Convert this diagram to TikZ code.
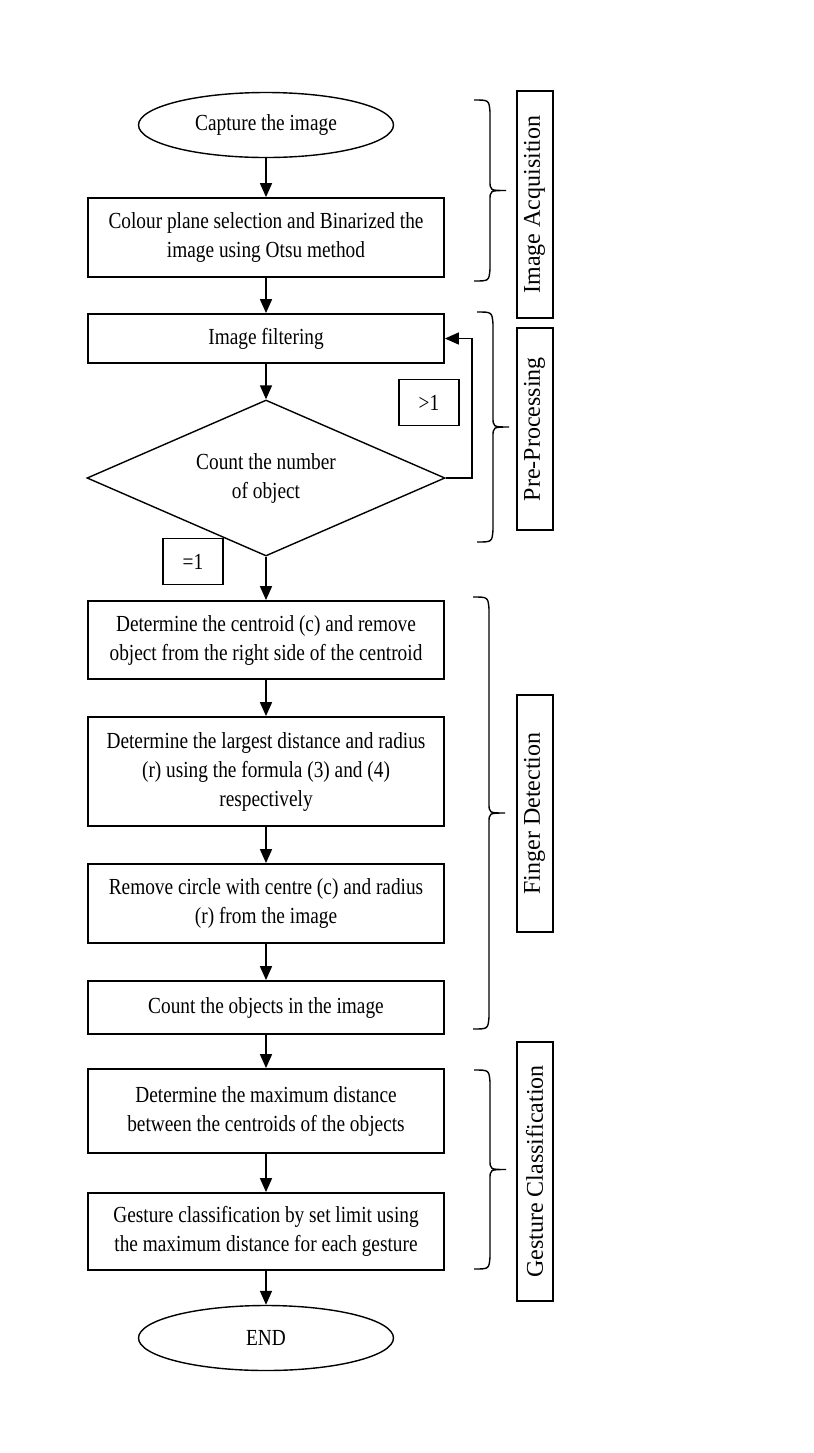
\documentclass[tikz,border=0pt]{standalone}
\usepackage{fontspec}
\setmainfont{Liberation Serif}[FakeStretch=0.84]
\newfontfamily\tagfont{Liberation Serif}
\usetikzlibrary{shapes.geometric, arrows.meta}
\tikzstyle{arrow} = [-{Triangle[length=7pt,width=6pt]},line width=.8pt]
\tikzstyle{stage} = [draw,line width=.9pt,minimum width=178pt,inner sep=0pt,align=center]
\tikzstyle{term} = [draw,ellipse,line width=.7pt,minimum width=127.5pt,minimum height=32.5pt]
\tikzstyle{decide} = [draw,diamond,aspect=2.3,line width=.7pt,minimum width=179pt,minimum height=78pt,inner sep=0pt,align=center]
\tikzstyle{cond} = [draw,line width=.8pt,minimum width=30pt,minimum height=23pt,inner sep=0pt]
\tikzstyle{phase} = [draw,line width=1pt,rotate=90,minimum height=18pt,inner sep=0pt,font=\tagfont\fontsize{12}{14}\selectfont]
\tikzstyle{brc} = [line width=.7pt]
\newcommand{\stagebrace}[3]{\draw[brc]({#1},{#2})..controls({#1+15},{#2})..({#1+16},{#2+12})--({#1+16},{(#2+#3)/2-10})..controls({#1+16},{(#2+#3)/2})..({#1+32},{(#2+#3)/2})
  ..controls({#1+16},{(#2+#3)/2})..({#1+16},{(#2+#3)/2+10})--({#1+16},{#3-12})..controls({#1+15},{#3})..({#1},{#3});}

\begin{document}
\begin{tikzpicture}[x=.5pt,y=-.5pt,font=\fontsize{11.5}{14.5}\selectfont]
      \useasboundingbox(0,0)rectangle(814,1453);
      \node[term](cap)at(266,125){Capture the image};
      \node[stage,minimum height=39.5pt](bin)at(266,237.5){Colour plane selection and Binarized the\\image using Otsu method};
      \node[stage,minimum height=24.5pt](filt)at(266,338.5){Image filtering};
      \node[decide](cnt)at(266,478){Count the number\\of object};
      \node[cond](gt)at(429,402.5){>1};
      \node[cond](eq)at(193,561.5){=1};
      \node[stage,minimum height=39pt](cen)at(266,640){Determine the centroid (c) and remove\\object from the right side of the centroid};
      \node[stage,minimum height=54.5pt](rad)at(266,771.5){Determine the largest distance and radius\\(r) using the formula (3) and (4)\\respectively};
      \node[stage,minimum height=39.5pt](circ)at(266,903.5){Remove circle with centre (c) and radius\\(r) from the image};
      \node[stage,minimum height=26.5pt](obj)at(266,1007.5){Count the objects in the image};
      \node[stage,minimum height=42pt](dist)at(266,1111){Determine the maximum distance\\between the centroids of the objects};
      \node[stage,minimum height=38.5pt](cls)at(266,1231.5){Gesture classification by set limit using\\the maximum distance for each gesture};
      \node[term](end)at(266,1338){END};
      \draw[arrow](cap)--(bin);
      \draw[arrow](bin)--(filt);
      \draw[arrow](filt)--(cnt);
      \draw[arrow](cnt.east)--++(26,0)|-(filt.east);
      \draw[arrow](cnt)--(cen);
      \draw[arrow](cen)--(rad);
      \draw[arrow](rad)--(circ);
      \draw[arrow](circ)--(obj);
      \draw[arrow](obj)--(dist);
      \draw[arrow](dist)--(cls);
      \draw[arrow](cls)--(end);
      \stagebrace{474}{100}{281}
      \stagebrace{477}{312}{542}
      \stagebrace{473}{597}{1029}
      \stagebrace{474}{1070}{1269}
      \node[phase,minimum width=113.5pt](acq)at(534.5,204.5){Image Acquisition};
      \node[phase,minimum width=101pt](pre)at(534.5,429){Pre-Processing};
      \node[phase,minimum width=118.5pt](fng)at(534.5,813.5){Finger Detection};
      \node[phase,minimum width=129.5pt](ges)at(534.5,1171.5){Gesture Classification};
\end{tikzpicture}
\end{document}
